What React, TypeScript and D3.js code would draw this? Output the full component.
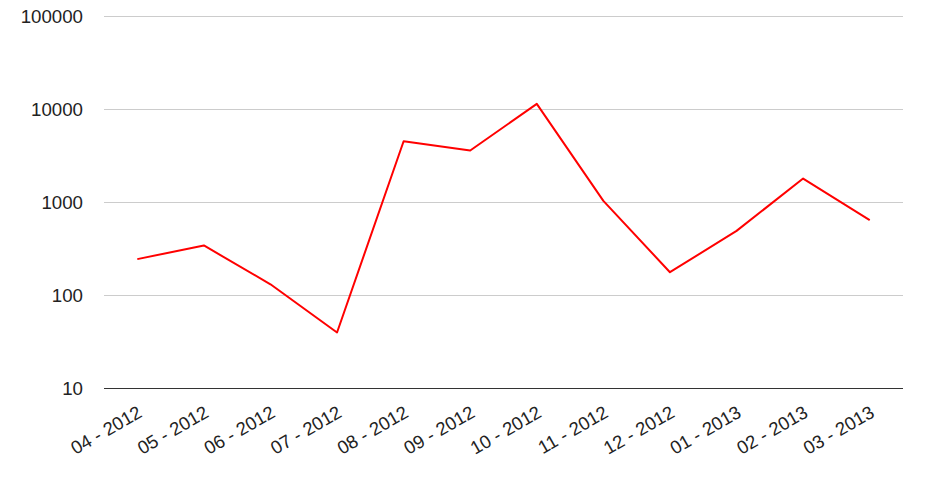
import React from "react";
import * as d3 from "d3";

const months = ["04 - 2012", "05 - 2012", "06 - 2012", "07 - 2012", "08 - 2012", "09 - 2012", "10 - 2012", "11 - 2012", "12 - 2012", "01 - 2013", "02 - 2013", "03 - 2013"];
const values = [246, 345, 132, 40, 4560, 3620, 11500, 1040, 178, 495, 1810, 645];
const yTicks = [10, 100, 1000, 10000, 100000];

const W = 934;
const H = 480;
const FONT = "Arial, 'Liberation Sans', sans-serif";

export default function App() {
  const x = d3.scalePoint<string>().domain(months).range([104, 903]).padding(0.5);
  const y = d3.scaleLog().domain([10, 100000]).range([388.5, 16.5]);
  const line = d3
    .line<number>()
    .x((_, i) => x(months[i]) as number)
    .y((d) => y(d));

  return (
    <svg width={W} height={H} style={{ position: "absolute", left: 0, top: 0 }} fontFamily={FONT}>
      <rect width={W} height={H} fill="#fff" />
      {yTicks.map((t) => (
        <g key={t}>
          {t !== 10 && (
            <line x1={104} x2={903} y1={y(t)} y2={y(t)} stroke="#cccccc" strokeWidth={1} />
          )}
          <text x={83} y={y(t)} dy="0.35em" textAnchor="end" fontSize={18.7} fill="#222">
            {t}
          </text>
        </g>
      ))}
      <path d={line(values) || ""} fill="none" stroke="#ff0000" strokeWidth={2} strokeLinejoin="round" />
      <line x1={104} x2={903} y1={y(10)} y2={y(10)} stroke="#333333" strokeWidth={1} />
      {months.map((m) => {
        const tx = (x(m) as number) + 6;
        const ty = 416;
        return (
          <text
            key={m}
            x={tx}
            y={ty}
            textAnchor="end"
            fontSize={18.5}
            fill="#222"
            transform={`rotate(-30 ${tx} ${ty})`}
          >
            {m}
          </text>
        );
      })}
    </svg>
  );
}
